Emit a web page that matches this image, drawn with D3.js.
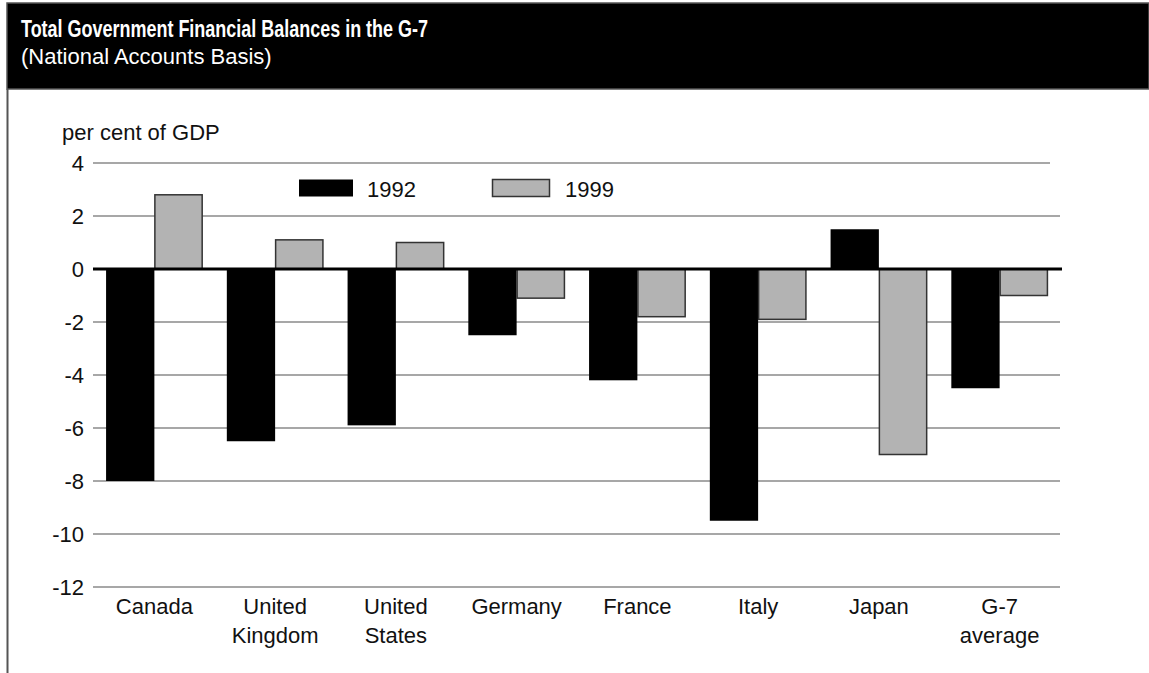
<!DOCTYPE html>
<html>
<head>
<meta charset="utf-8">
<script src="https://cdn.jsdelivr.net/npm/d3@7"></script>
<style>
  html, body { margin: 0; padding: 0; background: #fff; }
  svg { display: block; }
  text { font-family: "Liberation Sans", Arial, Helvetica, sans-serif; }
</style>
</head>
<body>
<svg id="chart" width="1149" height="673"></svg>
<script>
// ---- data ----
const categories = [["Canada"], ["United", "Kingdom"], ["United", "States"], ["Germany"], ["France"], ["Italy"], ["Japan"], ["G-7", "average"]];
const seriesNames = ["1992", "1999"];
const values1992 = [-8.0, -6.5, -5.9, -2.5, -4.2, -9.5, 1.5, -4.5];
const values1999 = [2.8, 1.1, 1.0, -1.1, -1.8, -1.9, -7.0, -1.0];
const yTicks = [4, 2, 0, -2, -4, -6, -8, -10, -12];
const titleText = "Total Government Financial Balances in the G-7";
const subtitleText = "(National Accounts Basis)";
const unitText = "per cent of GDP";

const svg = d3.select("#chart");
const W = 1149, H = 673;
const fills = ["#000000", "#b3b3b3"];

// frame + header
svg.append("rect").attr("x", 0).attr("y", 0).attr("width", W).attr("height", H).attr("fill", "#fff");
svg.append("rect").attr("x", 7).attr("y", 3).attr("width", W - 7).attr("height", 86)
  .attr("fill", "#000").attr("stroke", "#555").attr("stroke-width", 1.5);
svg.append("line").attr("x1", 7.5).attr("x2", 7.5).attr("y1", 89).attr("y2", H)
  .attr("stroke", "#555").attr("stroke-width", 2);

svg.append("text").attr("x", 21).attr("y", 37)
  .attr("fill", "#fff").attr("font-weight", "bold").attr("font-size", 24)
  .style("font-family", '"Liberation Sans Narrow", "Liberation Sans", Arial, sans-serif')
  .attr("textLength", 407).attr("lengthAdjust", "spacingAndGlyphs")
  .text(titleText);
svg.append("text").attr("x", 21).attr("y", 64)
  .attr("fill", "#fff").attr("font-size", 22)
  .text(subtitleText);

svg.append("text").attr("x", 62).attr("y", 140).attr("font-size", 22).attr("fill", "#111").text(unitText);

// scales
const x0 = d3.scaleBand().domain(d3.range(categories.length)).range([94, 1060]).paddingInner(0.2).paddingOuter(0.1);
const x1 = d3.scaleBand().domain(seriesNames).range([0, x0.bandwidth()]);
const y = d3.scaleLinear().domain([-12, 4]).range([587, 163]);

// gridlines
const grid = svg.append("g");
grid.selectAll("line").data(yTicks.filter(d => d !== 0)).join("line")
  .attr("x1", 93).attr("x2", d => d === 4 ? 1050 : 1060)
  .attr("y1", d => y(d)).attr("y2", d => y(d))
  .attr("stroke", "#8a8a8a").attr("stroke-width", 1.5);

// y axis labels
const yAxis = d3.axisLeft(y).tickValues(yTicks).tickSize(0).tickPadding(0).tickFormat(d => String(d));
const ya = svg.append("g").attr("transform", "translate(84,0)").call(yAxis);
ya.select(".domain").remove();
ya.selectAll("text").attr("font-size", 22).attr("fill", "#111")
  .style("font-family", '"Liberation Sans", Arial, sans-serif').attr("dy", "0.35em");

// bars
const rows = categories.map((c, i) => ({ i, vals: [values1992[i], values1999[i]] }));
const g = svg.append("g");
const groups = g.selectAll("g").data(rows).join("g").attr("transform", d => `translate(${x0(d.i)},0)`);
groups.selectAll("rect").data(d => d.vals.map((v, k) => ({ v, k }))).join("rect")
  .attr("x", d => x1(seriesNames[d.k]) + (d.k === 1 ? 0.5 : 0))
  .attr("width", d => x1.bandwidth() - (d.k === 1 ? 1 : 0))
  .attr("y", d => Math.min(y(0), y(d.v)))
  .attr("height", d => Math.abs(y(d.v) - y(0)))
  .attr("fill", d => fills[d.k])
  .attr("stroke", d => d.k === 1 ? "#333" : "none")
  .attr("stroke-width", 1.5);

// zero line
svg.append("line").attr("x1", 93).attr("x2", 1062).attr("y1", y(0)).attr("y2", y(0))
  .attr("stroke", "#000").attr("stroke-width", 3);

// category labels
const xl = svg.append("g");
categories.forEach((lines, i) => {
  const t = xl.append("text").attr("x", x0(i) + x0.bandwidth() / 2).attr("y", 614)
    .attr("text-anchor", "middle").attr("font-size", 22).attr("fill", "#111");
  lines.forEach((ln, j) => t.append("tspan").attr("x", x0(i) + x0.bandwidth() / 2).attr("dy", j === 0 ? 0 : 29).text(ln));
});

// legend
const legendX = [299, 492];
seriesNames.forEach((s, k) => {
  svg.append("rect").attr("x", legendX[k] + (k === 1 ? 0.5 : 0)).attr("y", 179.5)
    .attr("width", k === 1 ? 57 : 54).attr("height", 17)
    .attr("fill", fills[k]).attr("stroke", k === 1 ? "#333" : "none").attr("stroke-width", 1.5);
  svg.append("text").attr("x", legendX[k] + (k === 1 ? 73 : 68)).attr("y", 197)
    .attr("font-size", 22).attr("fill", "#111").text(s);
});
</script>
</body>
</html>
